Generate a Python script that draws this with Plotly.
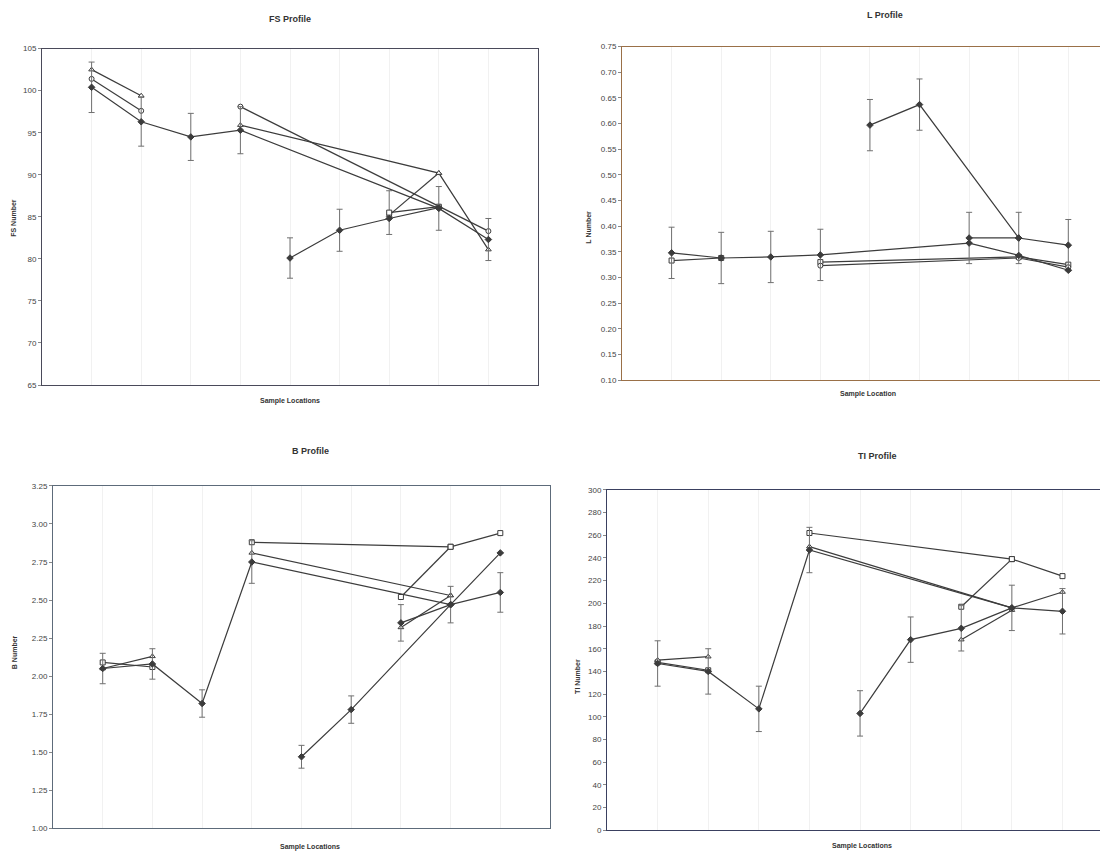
import plotly.graph_objects as go

N = None
LOCS = [1, 2, 3, 4, 5, 6, 7, 8, 9]

# ---------------- FS profile ----------------
fs_a = [100.4, 96.3, 94.5, 95.3, N, N, N, 86.0, 82.3]
fs_a_err = [3.0, 2.9, 2.8, 2.8, N, N, N, 2.6, 2.5]
fs_b1 = [101.4, 97.6, N, N, N, N, N, N, N]
fs_b2 = [N, N, N, 98.1, N, N, N, 86.2, 83.3]
fs_c1 = [102.5, 99.4, N, N, N, N, N, N, N]
fs_c2 = [N, N, N, 95.9, N, N, N, 90.2, 81.1]
fs_d = [N, N, N, N, 80.1, 83.4, 84.8, 86.1, N]
fs_d_err = [N, N, N, N, 2.4, 2.5, N, N, N]
fs_e = [N, N, N, N, N, N, 85.5, 86.2, N]
fs_e_err = [N, N, N, N, N, N, 2.6, N, N]
fs_f = [N, N, N, N, N, N, 85.2, 90.2, N]

# ---------------- L profile ----------------
l_a = [0.348, 0.338, 0.340, 0.344, N, N, 0.367, 0.343, 0.314]
l_a_err = [0.05, 0.05, 0.05, 0.05, N, N, N, N, N]
l_b1 = [0.333, 0.338, N, N, N, N, N, N, N]
l_b2 = [N, N, N, 0.330, N, N, N, 0.340, 0.325]
l_c = [N, N, N, 0.323, N, N, N, 0.338, 0.320]
l_d = [N, N, N, N, 0.597, 0.637, N, 0.377, 0.363]
l_d_err = [N, N, N, N, 0.05, 0.05, N, 0.05, 0.05]
l_e = [N, N, N, N, N, N, 0.377, 0.377, N]
l_e_err = [N, N, N, N, N, N, 0.05, N, N]

# ---------------- B profile ----------------
b_a = [2.05, 2.08, 1.82, 2.75, N, N, N, 2.47, 2.55]
b_a_err = [0.10, 0.10, 0.09, 0.14, N, N, N, 0.12, 0.13]
b_b1 = [2.09, 2.06, N, N, N, N, N, N, N]
b_b2 = [N, N, N, 2.88, N, N, N, 2.85, 2.94]
b_c1 = [2.05, 2.13, N, N, N, N, N, N, N]
b_c2 = [N, N, N, 2.81, N, N, N, 2.53, N]
b_d = [N, N, N, N, 1.47, 1.78, N, 2.47, 2.81]
b_d_err = [N, N, N, N, 0.075, 0.09, N, N, N]
b_e = [N, N, N, N, N, N, 2.52, 2.85, N]
b_f = [N, N, N, N, N, N, 2.35, 2.47, N]
b_f_err = [N, N, N, N, N, N, 0.12, N, N]
b_g = [N, N, N, N, N, N, 2.32, 2.53, N]

# ---------------- TI profile ----------------
ti_a = [147, 140, 107, 247, N, N, N, 196, 193]
ti_a_err = [20, 20, 20, 20, N, N, N, 20, 20]
ti_b1 = [148, 141, N, N, N, N, N, N, N]
ti_b2 = [N, N, N, 262, N, N, N, 239, 224]
ti_c1 = [150, 153, N, N, N, N, N, N, N]
ti_c2 = [N, N, N, 250, N, N, N, 196, 210]
ti_d = [N, N, N, N, 103, 168, 178, 196, N]
ti_d_err = [N, N, N, N, 20, 20, 20, N, N]
ti_e = [N, N, N, N, N, N, 197, 239, N]
ti_f = [N, N, N, N, N, N, 168, 194, N]

LINE = "#3c3c3c"
ERR = "#707070"

fig = go.Figure()


def add(y, sym, xa, ya, err=None, filled=False):
    marker = dict(symbol=sym, size=5,
                  color=LINE if filled else "white",
                  line=dict(color=LINE, width=1))
    kw = {}
    if err is not None:
        kw["error_y"] = dict(type="data", array=err, visible=True,
                             color=ERR, thickness=1, width=3)
    fig.add_trace(go.Scatter(x=LOCS, y=y, mode="lines+markers",
                             connectgaps=True, xaxis=xa, yaxis=ya,
                             line=dict(color=LINE, width=1.2),
                             marker=marker, showlegend=False,
                             hoverinfo="x+y", **kw))


# FS
add(fs_c1, "triangle-up", "x", "y")
add(fs_c2, "triangle-up", "x", "y")
add(fs_b1, "circle", "x", "y")
add(fs_b2, "circle", "x", "y")
add(fs_f, "triangle-up", "x", "y")
add(fs_e, "square", "x", "y", fs_e_err)
add(fs_d, "diamond", "x", "y", fs_d_err, True)
add(fs_a, "diamond", "x", "y", fs_a_err, True)
# L
add(l_b1, "square", "x2", "y2")
add(l_b2, "square", "x2", "y2")
add(l_c, "circle", "x2", "y2")
add(l_e, "diamond", "x2", "y2", l_e_err, True)
add(l_d, "diamond", "x2", "y2", l_d_err, True)
add(l_a, "diamond", "x2", "y2", l_a_err, True)
# B
add(b_b1, "square", "x3", "y3")
add(b_b2, "square", "x3", "y3")
add(b_c1, "triangle-up", "x3", "y3")
add(b_c2, "triangle-up", "x3", "y3")
add(b_e, "square", "x3", "y3")
add(b_g, "triangle-up", "x3", "y3")
add(b_f, "diamond", "x3", "y3", b_f_err, True)
add(b_d, "diamond", "x3", "y3", b_d_err, True)
add(b_a, "diamond", "x3", "y3", b_a_err, True)
# TI
add(ti_b1, "square", "x4", "y4")
add(ti_b2, "square", "x4", "y4")
add(ti_c1, "triangle-up", "x4", "y4")
add(ti_c2, "triangle-up", "x4", "y4")
add(ti_e, "square", "x4", "y4")
add(ti_f, "triangle-up", "x4", "y4")
add(ti_d, "diamond", "x4", "y4", ti_d_err, True)
add(ti_a, "diamond", "x4", "y4", ti_a_err, True)

# page body has an 8px margin; work in screen pixels and shift
OFF = 8
W, H = 1100, 851


def px_x(a, b):
    return [(a - OFF) / W, (b - OFF) / W]


def px_y(top, bottom):
    return [1 - (bottom - OFF) / H, 1 - (top - OFF) / H]


def xax(dom, rng, linecolor, anchor):
    return dict(domain=dom, range=rng, anchor=anchor, showticklabels=False,
                ticks="", tickvals=LOCS, showgrid=True, gridcolor="#f1f1f1",
                gridwidth=1, zeroline=False, showline=True, linecolor=linecolor,
                linewidth=1, mirror=True, fixedrange=True)


def yax(dom, rng, dtick, fmt, linecolor, anchor):
    return dict(domain=dom, range=rng, anchor=anchor, dtick=dtick,
                tickformat=fmt, ticks="outside", ticklen=3, tickcolor="#888",
                showgrid=False, zeroline=False, showline=True,
                linecolor=linecolor, linewidth=1, mirror=True,
                tickfont=dict(size=8, color="#444", family="Arial"),
                fixedrange=True)


fig.update_layout(
    width=W, height=H, margin=dict(l=0, r=0, t=0, b=0),
    paper_bgcolor="white", plot_bgcolor="white",
    font=dict(family="Arial", color="#333"),
    xaxis=xax(px_x(42, 538), [0, 10], "#4a4a5a", "y"),
    yaxis=yax(px_y(45, 385), [65, 105], 5, "d", "#4a4a5a", "x"),
    xaxis2=xax(px_x(622, 1106), [0, 9.76], "#9a7048", "y2"),
    yaxis2=yax(px_y(43, 380), [0.10, 0.75], 0.05, ".2f", "#9a7048", "x2"),
    xaxis3=xax(px_x(53, 550), [0, 10], "#5d6b7a", "y3"),
    yaxis3=yax(px_y(487, 833), [1.0, 3.25], 0.25, ".2f", "#5d6b7a", "x3"),
    xaxis4=xax(px_x(607, 1106), [0, 9.86], "#3a4060", "y4"),
    yaxis4=yax(px_y(491, 835), [0, 300], 20, "d", "#3a4060", "x4"),
)


def ann(text, x, y, size=9, bold=True, angle=0):
    fig.add_annotation(text=f"<b>{text}</b>" if bold else text,
                       x=(x - OFF) / W, y=1 - (y - OFF) / H,
                       xref="paper", yref="paper",
                       showarrow=False, textangle=angle,
                       font=dict(size=size, color="#333", family="Arial"),
                       xanchor="center", yanchor="middle")


ann("FS Profile", 290, 15, 9)
ann("L Profile", 885, 11, 9)
ann("B Profile", 310, 452, 9)
ann("TI Profile", 877, 457, 9)
ann("Sample Locations", 290, 401, 7)
ann("Sample Location", 868, 394, 7)
ann("Sample Locations", 310, 852, 7)
ann("Sample Locations", 862, 851, 7)
ann("FS Number", 14, 216, 7, angle=-90)
ann("L Number", 589, 226, 7, angle=-90)
ann("B Number", 14, 655, 7, angle=-90)
ann("TI Number", 578, 680, 7, angle=-90)

fig.write_html("out.html")
